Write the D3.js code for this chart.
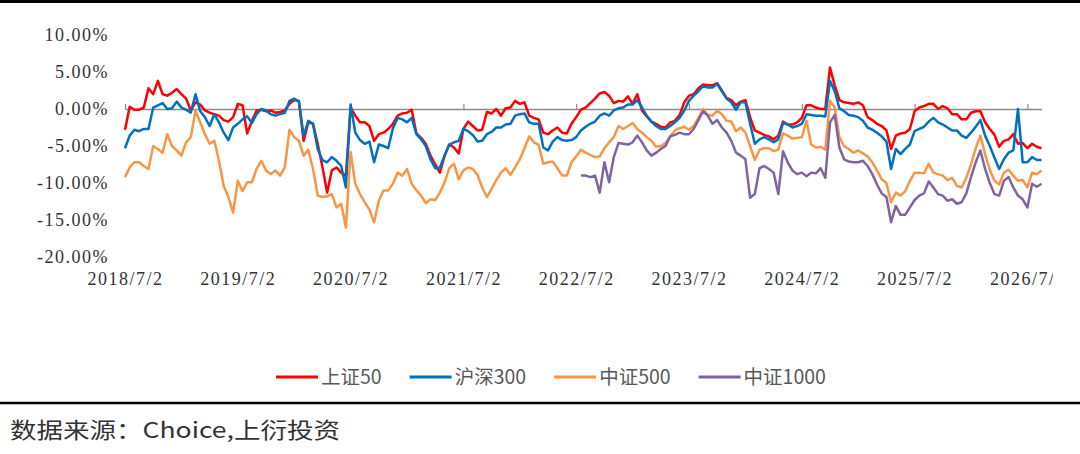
<!DOCTYPE html>
<html>
<head>
<meta charset="utf-8">
<script src="https://cdn.jsdelivr.net/npm/d3@7/dist/d3.min.js"></script>
<style>
  html, body { margin: 0; padding: 0; background: #fff; }
  svg { display: block; }
</style>
</head>
<body>
<svg id="chart" width="1080" height="454"></svg>
<script>
// x axis: one point every half month, labels once a year
var pointsPerYear = 24;
var xTickLabels = ["2018/7/2", "2019/7/2", "2020/7/2", "2021/7/2", "2022/7/2",
  "2023/7/2", "2024/7/2", "2025/7/2", "2026/7/2"];
var yTicks = [-20, -15, -10, -5, 0, 5, 10];

// values in %
var sz50 = [
  -2.8, 0.3, -0.1, -0.1, 0.2, 2.8, 2.0, 3.8, 2.0, 1.8, 2.2, 2.7,
  2.0, 1.4, -0.2, 0.9, 0.6, -0.2, -0.5, -0.7, -0.9, -1.5, -1.7, -1.1,
  0.7, 0.5, -3.3, -1.6, -0.2, -0.1, -0.3, -0.2, -0.5, -0.4, -0.2, 0.7,
  1.2, 1.1, -4.3, -1.8, -2.0, -4.7, -7.8, -11.3, -8.3, -7.9, -8.6, -9.0,
  0.2, -0.9, -1.8, -1.8, -2.3, -4.3, -3.4, -3.2, -2.7, -2.0, -0.9, -0.6,
  -0.5, -0.1, -3.3, -3.9, -4.7, -6.3, -7.5, -8.6, -6.3, -4.8, -5.2, -6.0,
  -2.7, -1.7, -2.3, -2.9, -2.8, -0.4, -0.6, 0.0, -0.9, 0.1, 0.2, 1.1,
  0.7, 0.9, -0.9, -1.2, -1.4, -3.2, -3.4, -2.9, -2.5, -3.2, -3.3, -2.0,
  -1.1, -0.1, 0.2, 0.8, 1.4, 2.1, 2.3, 1.8, 0.8, 1.1, 1.0, 1.7,
  0.7, 2.0, -0.2, -1.0, -1.7, -2.0, -2.4, -2.5, -1.8, -1.6, -0.8, 0.9,
  1.8, 2.0, 2.8, 3.3, 3.2, 3.2, 3.5, 2.5, 1.5, 1.2, 0.5, 1.0,
  1.2, -1.1, -2.9, -3.2, -3.5, -3.7, -4.1, -3.6, -1.7, -2.1, -2.1, -1.8,
  -1.2, 0.5, 0.5, 0.2, 0.0, 0.0, 5.6, 3.2, 1.2, 0.9, 0.8, 0.7,
  0.9, 0.5, -1.1, -1.5, -2.0, -2.3, -2.9, -5.4, -3.6, -3.3, -3.2, -2.7,
  -0.3, 0.2, 0.4, 0.7, 0.7, 0.0, 0.4, 0.1, -0.7, -0.7, -1.4, -1.4,
  -0.5, -0.3, -0.3, -1.8, -2.7, -3.5, -5.1, -4.3, -4.1, -3.4, -4.7, -4.6,
  -5.3, -4.7, -5.1, -5.3
];
var hs300 = [
  -5.3, -3.6, -2.8, -3.0, -2.7, -2.7, 0.2, 0.5, 0.8, 0.0, 0.1, 1.0,
  0.2, -0.1, -0.5, 2.0, -0.3, -1.1, -2.3, -0.7, -1.8, -3.2, -4.2, -2.5,
  -2.0, -1.4, -1.0, -1.9, -0.7, 0.0, -0.2, -0.7, -0.9, -0.7, -0.5, 1.1,
  1.4, 1.0, -3.6, -1.6, -2.0, -5.4, -6.9, -7.2, -6.5, -7.0, -7.7, -10.6,
  0.6, -3.2, -4.2, -4.7, -4.4, -7.2, -4.8, -5.0, -5.3, -2.6, -1.2, -1.4,
  -1.8, -1.2, -3.4, -4.1, -5.0, -6.8, -8.0, -7.9, -6.3, -4.8, -4.5, -4.3,
  -2.7, -3.0, -3.5, -4.4, -4.3, -3.4, -3.1, -2.5, -2.5, -2.1, -2.0, -0.9,
  -0.7, -0.6, -1.8, -2.0, -2.0, -5.2, -5.6, -4.4, -3.8, -4.2, -4.3, -4.2,
  -3.8, -2.9, -2.4, -2.0, -1.7, -0.9, -0.6, -0.9, -0.2, 0.1, 0.2, 0.6,
  0.6, 1.2, 0.2, -0.9, -1.7, -2.3, -2.7, -2.7, -2.3, -1.8, -1.2, -0.2,
  1.1, 1.8, 2.4, 3.1, 2.9, 2.9, 3.4, 2.4, 1.4, 0.9, -0.1, 0.9,
  0.9, -2.0, -4.7, -4.1, -3.8, -4.1, -4.5, -4.1, -1.9, -2.1, -2.5, -2.3,
  -2.0, -0.7, -0.8, -0.9, -0.9, -1.0, 3.8, 2.4, 0.1, -0.3, -0.8, -0.9,
  -1.1, -1.6, -2.5, -2.8, -3.2, -3.7, -4.4, -8.1, -5.4, -6.1, -5.4, -4.8,
  -3.0, -2.7, -2.4, -1.7, -1.2, -1.8, -2.1, -2.5, -2.9, -2.9, -3.6, -3.9,
  -3.2, -2.4, -1.5, -3.6, -5.0, -6.6, -8.1, -6.8, -5.9, -5.6, 0.0, -7.2,
  -7.2, -6.5, -6.9, -6.9
];
var zz500 = [
  -9.2, -7.9, -7.2, -7.2, -7.7, -8.1, -5.0, -5.4, -5.9, -3.4, -5.0, -5.6,
  -6.3, -4.5, -3.8, -0.2, -1.8, -3.4, -4.7, -4.3, -7.0, -10.4, -11.9, -14.0,
  -9.7, -11.1, -9.9, -9.9, -8.1, -7.0, -8.3, -8.8, -8.3, -9.0, -7.9, -2.8,
  -3.8, -4.3, -6.3, -5.5, -8.1, -11.7, -11.9, -11.8, -11.5, -13.3, -12.8, -16.0,
  -5.8, -10.1, -11.5, -12.6, -13.6, -15.3, -12.4, -11.0, -11.0, -10.1, -8.6, -9.0,
  -8.1, -10.1, -11.0, -11.7, -12.7, -12.2, -12.3, -11.3, -9.9, -8.0, -7.4, -9.5,
  -8.3, -7.9, -8.1, -8.9, -10.6, -11.9, -10.8, -9.6, -8.6, -8.0, -8.9, -7.9,
  -6.8, -5.3, -3.7, -4.5, -4.8, -7.4, -7.2, -7.1, -8.0, -9.0, -9.0, -7.2,
  -6.4, -5.5, -5.9, -6.2, -6.5, -6.4, -5.3, -4.5, -3.8, -2.3, -2.7, -2.3,
  -1.9, -2.7, -3.2, -3.8, -4.3, -5.1, -5.0, -4.6, -3.7, -2.9, -2.6, -2.4,
  -2.8, -2.3, -1.2, 0.0, -0.8, -0.9, -0.2, -0.7, -1.6, -1.7, -3.0, -2.5,
  -3.2, -5.0, -6.9, -5.5, -5.3, -5.3, -5.7, -5.5, -3.3, -3.6, -4.0, -3.9,
  -3.8, -1.6, -4.8, -5.2, -5.1, -5.5, 1.1, 0.2, -3.8, -5.0, -5.4, -5.9,
  -5.6, -6.0, -6.4, -7.2, -8.3, -9.5, -10.0, -12.6, -11.3, -11.7, -11.1, -9.7,
  -8.6, -8.6, -8.7, -7.4, -8.6, -8.8, -9.0, -9.6, -9.3, -10.4, -10.6, -9.3,
  -7.5, -5.3, -3.6, -6.1, -8.2, -9.7, -10.2, -8.6, -8.2, -9.0, -9.7, -9.6,
  -10.6, -8.6, -8.8, -8.3
];
// 中证1000 only starts later (point index 97)
var zz1000Start = 97;
var zz1000 = [
  -9.0, -9.0, -9.2, -9.0, -11.3, -7.2, -9.9, -6.5, -4.6, -4.7, -4.8,
  -4.5, -3.6, -4.5, -5.6, -6.3, -5.9, -5.4, -5.0, -3.7, -3.5, -3.2, -3.4,
  -3.4, -2.7, -1.5, -0.3, -0.9, -2.0, -1.5, -2.5, -3.2, -4.3, -5.9, -6.3,
  -6.8, -12.0, -11.5, -8.0, -7.7, -8.1, -8.6, -11.5, -5.7, -7.2, -8.3, -8.8,
  -8.6, -9.1, -8.6, -8.7, -8.0, -9.3, -1.8, -0.8, -5.2, -6.8, -7.1, -7.2,
  -7.2, -7.0, -7.7, -8.8, -10.2, -11.4, -11.9, -15.3, -13.1, -14.3, -14.3, -13.3,
  -12.3, -11.7, -11.4, -9.8, -10.6, -11.5, -11.7, -12.4, -12.2, -12.8, -12.6, -11.4,
  -9.2, -7.2, -5.6, -8.1, -10.0, -11.5, -11.7, -9.7, -9.2, -10.6, -11.7, -12.2,
  -13.3, -10.1, -10.5, -10.1
];

var seriesNames = ["上证50", "沪深300", "中证500", "中证1000"];
var seriesColors = ["#FF0000", "#0070C0", "#F79646", "#8064A2"];
var series = [
  { name: seriesNames[0], color: seriesColors[0], start: 0, values: sz50 },
  { name: seriesNames[1], color: seriesColors[1], start: 0, values: hs300 },
  { name: seriesNames[2], color: seriesColors[2], start: 0, values: zz500 },
  { name: seriesNames[3], color: seriesColors[3], start: zz1000Start, values: zz1000 }
];

var svg = d3.select("#chart");
var serif = "'Liberation Serif', 'DejaVu Serif', serif";
var cjk = "'Noto Sans CJK SC', 'Noto Sans', sans-serif";

var x = d3.scaleLinear().domain([0, sz50.length - 1]).range([125, 1041.5]);
var y = d3.scaleLinear().domain([-20, 10]).range([257, 35]);

// top rule
svg.append("rect").attr("x", 0).attr("y", 0).attr("width", 1080).attr("height", 3).attr("fill", "#000");

// y labels (no axis line)
var yAxis = svg.append("g")
  .attr("transform", "translate(111,0)")
  .call(d3.axisLeft(y).tickValues(yTicks).tickSize(0).tickPadding(2)
    .tickFormat(function(d) { return d.toFixed(2) + "%"; }));
yAxis.select(".domain").remove();
yAxis.selectAll("text")
  .style("font-family", serif).style("font-size", "18px")
  .style("letter-spacing", "1.5px").attr("fill", "#333");

// zero line with small year ticks pointing up
var tickIdx = xTickLabels.map(function(d, i) { return i * pointsPerYear; });
var zeroAxis = svg.append("g")
  .attr("transform", "translate(0," + y(0) + ")")
  .call(d3.axisTop(x).tickValues(tickIdx).tickFormat("").tickSizeInner(5).tickSizeOuter(0));
zeroAxis.select(".domain").attr("stroke", "#8c8c8c").attr("stroke-width", 1.6);
zeroAxis.selectAll(".tick line").attr("stroke", "#8c8c8c").attr("stroke-width", 1.2);

// year labels at the bottom, last one cut off by the plot edge
svg.append("clipPath").attr("id", "xclip")
  .append("rect").attr("x", 0).attr("y", 255).attr("width", 1053).attr("height", 40);
var xLabels = svg.append("g")
  .attr("clip-path", "url(#xclip)")
  .append("g")
  .attr("transform", "translate(0,272)")
  .call(d3.axisBottom(x).tickValues(tickIdx).tickSize(0).tickPadding(0)
    .tickFormat(function(d, i) { return xTickLabels[i]; }));
xLabels.select(".domain").remove();
xLabels.selectAll("text")
  .style("font-family", serif).style("font-size", "18px")
  .style("letter-spacing", "1.5px").attr("fill", "#333");

// series
var line = d3.line()
  .x(function(d) { return x(d.i); })
  .y(function(d) { return y(d.v); });

series.forEach(function(s) {
  var pts = s.values.map(function(v, k) { return { i: s.start + k, v: v }; });
  svg.append("path")
    .datum(pts)
    .attr("d", line)
    .attr("fill", "none")
    .attr("stroke", s.color)
    .attr("stroke-width", 2.5)
    .attr("stroke-linejoin", "round");
});

// legend
var legend = svg.append("g").attr("transform", "translate(0,377)");
var lx = 276;
series.forEach(function(s) {
  var item = legend.append("g").attr("transform", "translate(" + lx + ",0)");
  item.append("line").attr("x1", 0).attr("x2", 42).attr("y1", 0).attr("y2", 0)
    .attr("stroke", s.color).attr("stroke-width", 3);
  var t = item.append("text").attr("x", 45).attr("y", 0).attr("dy", "0.35em")
    .style("font-family", cjk).style("font-size", "19.5px").attr("fill", "#595959")
    .text(s.name);
  lx += 45 + t.node().getComputedTextLength() + 28;
});

// bottom rule and source
svg.append("line").attr("x1", 0).attr("x2", 1080).attr("y1", 403).attr("y2", 403)
  .attr("stroke", "#000").attr("stroke-width", 2.5);
svg.append("text").attr("x", 10).attr("y", 438)
  .attr("textLength", 330).attr("lengthAdjust", "spacingAndGlyphs")
  .style("font-family", cjk).style("font-size", "22px").attr("fill", "#333")
  .text("数据来源：Choice,上衍投资");
</script>
</body>
</html>
